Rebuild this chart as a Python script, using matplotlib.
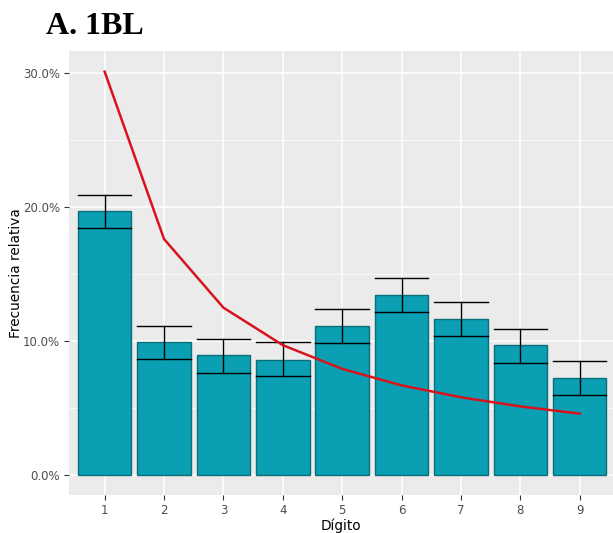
import matplotlib
matplotlib.use("Agg")
import matplotlib.pyplot as plt
import numpy as np

# datos
digitos = [1, 2, 3, 4, 5, 6, 7, 8, 9]
frec = [19.70, 9.93, 8.96, 8.58, 11.12, 13.43, 11.62, 9.68, 7.24]
err_inf = [18.43, 8.66, 7.61, 7.39, 9.85, 12.16, 10.37, 8.38, 5.95]
err_sup = [20.90, 11.12, 10.15, 9.93, 12.39, 14.70, 12.91, 10.92, 8.49]
benford = [30.10, 17.61, 12.49, 9.69, 7.92, 6.69, 5.80, 5.12, 4.58]
yticks = [0, 10, 20, 30]
ylabels = ["0.0%", "10.0%", "20.0%", "30.0%"]

fig = plt.figure(figsize=(6.13, 5.33), dpi=100)
ax = fig.add_axes([69/613, 1 - 495/533, 1 - 69/613, (495 - 51)/533])
ax.set_facecolor("#EBEBEB")

ax.bar(digitos, frec, width=0.9, color="#0A9FB2", edgecolor="#0B6E78",
       linewidth=1.0, zorder=2)

# barras de error (tapa del mismo ancho que la barra)
for d, lo, hi in zip(digitos, err_inf, err_sup):
    ax.plot([d, d], [lo, hi], color="black", lw=1.0, zorder=3)
    ax.plot([d - 0.45, d + 0.45], [lo, lo], color="black", lw=1.0, zorder=3)
    ax.plot([d - 0.45, d + 0.45], [hi, hi], color="black", lw=1.0, zorder=3)

ax.plot(digitos, benford, color="#D7141E", lw=1.8, zorder=4)

ax.set_xlim(0.4, 9.56)
ax.set_ylim(-1.49, 31.64)
ax.set_yticks(yticks)
ax.set_yticklabels(ylabels)
ax.set_yticks([5, 15, 25], minor=True)
ax.set_xticks(digitos)
ax.grid(True, which="major", color="white", lw=1.1, zorder=0)
ax.grid(True, which="minor", axis="y", color="white", lw=0.5, zorder=0)
ax.set_axisbelow(True)
for s in ax.spines.values():
    s.set_visible(False)
ax.tick_params(axis="both", which="major", colors="#333333", length=3.5,
               width=0.8, labelsize=8.5, labelcolor="#4D4D4D", pad=3)
ax.tick_params(axis="y", which="minor", length=0)

ax.set_xlabel("Dígito", fontsize=9.8, color="black", labelpad=1)
ax.set_ylabel("Frecuencia relativa", fontsize=9.8, color="black", labelpad=0)

fig.text(46/613, 1 - 34/533, "A. 1BL", family="Liberation Serif",
         fontweight="bold", fontsize=23, ha="left", va="baseline")

fig.savefig("out.png", dpi=100)
